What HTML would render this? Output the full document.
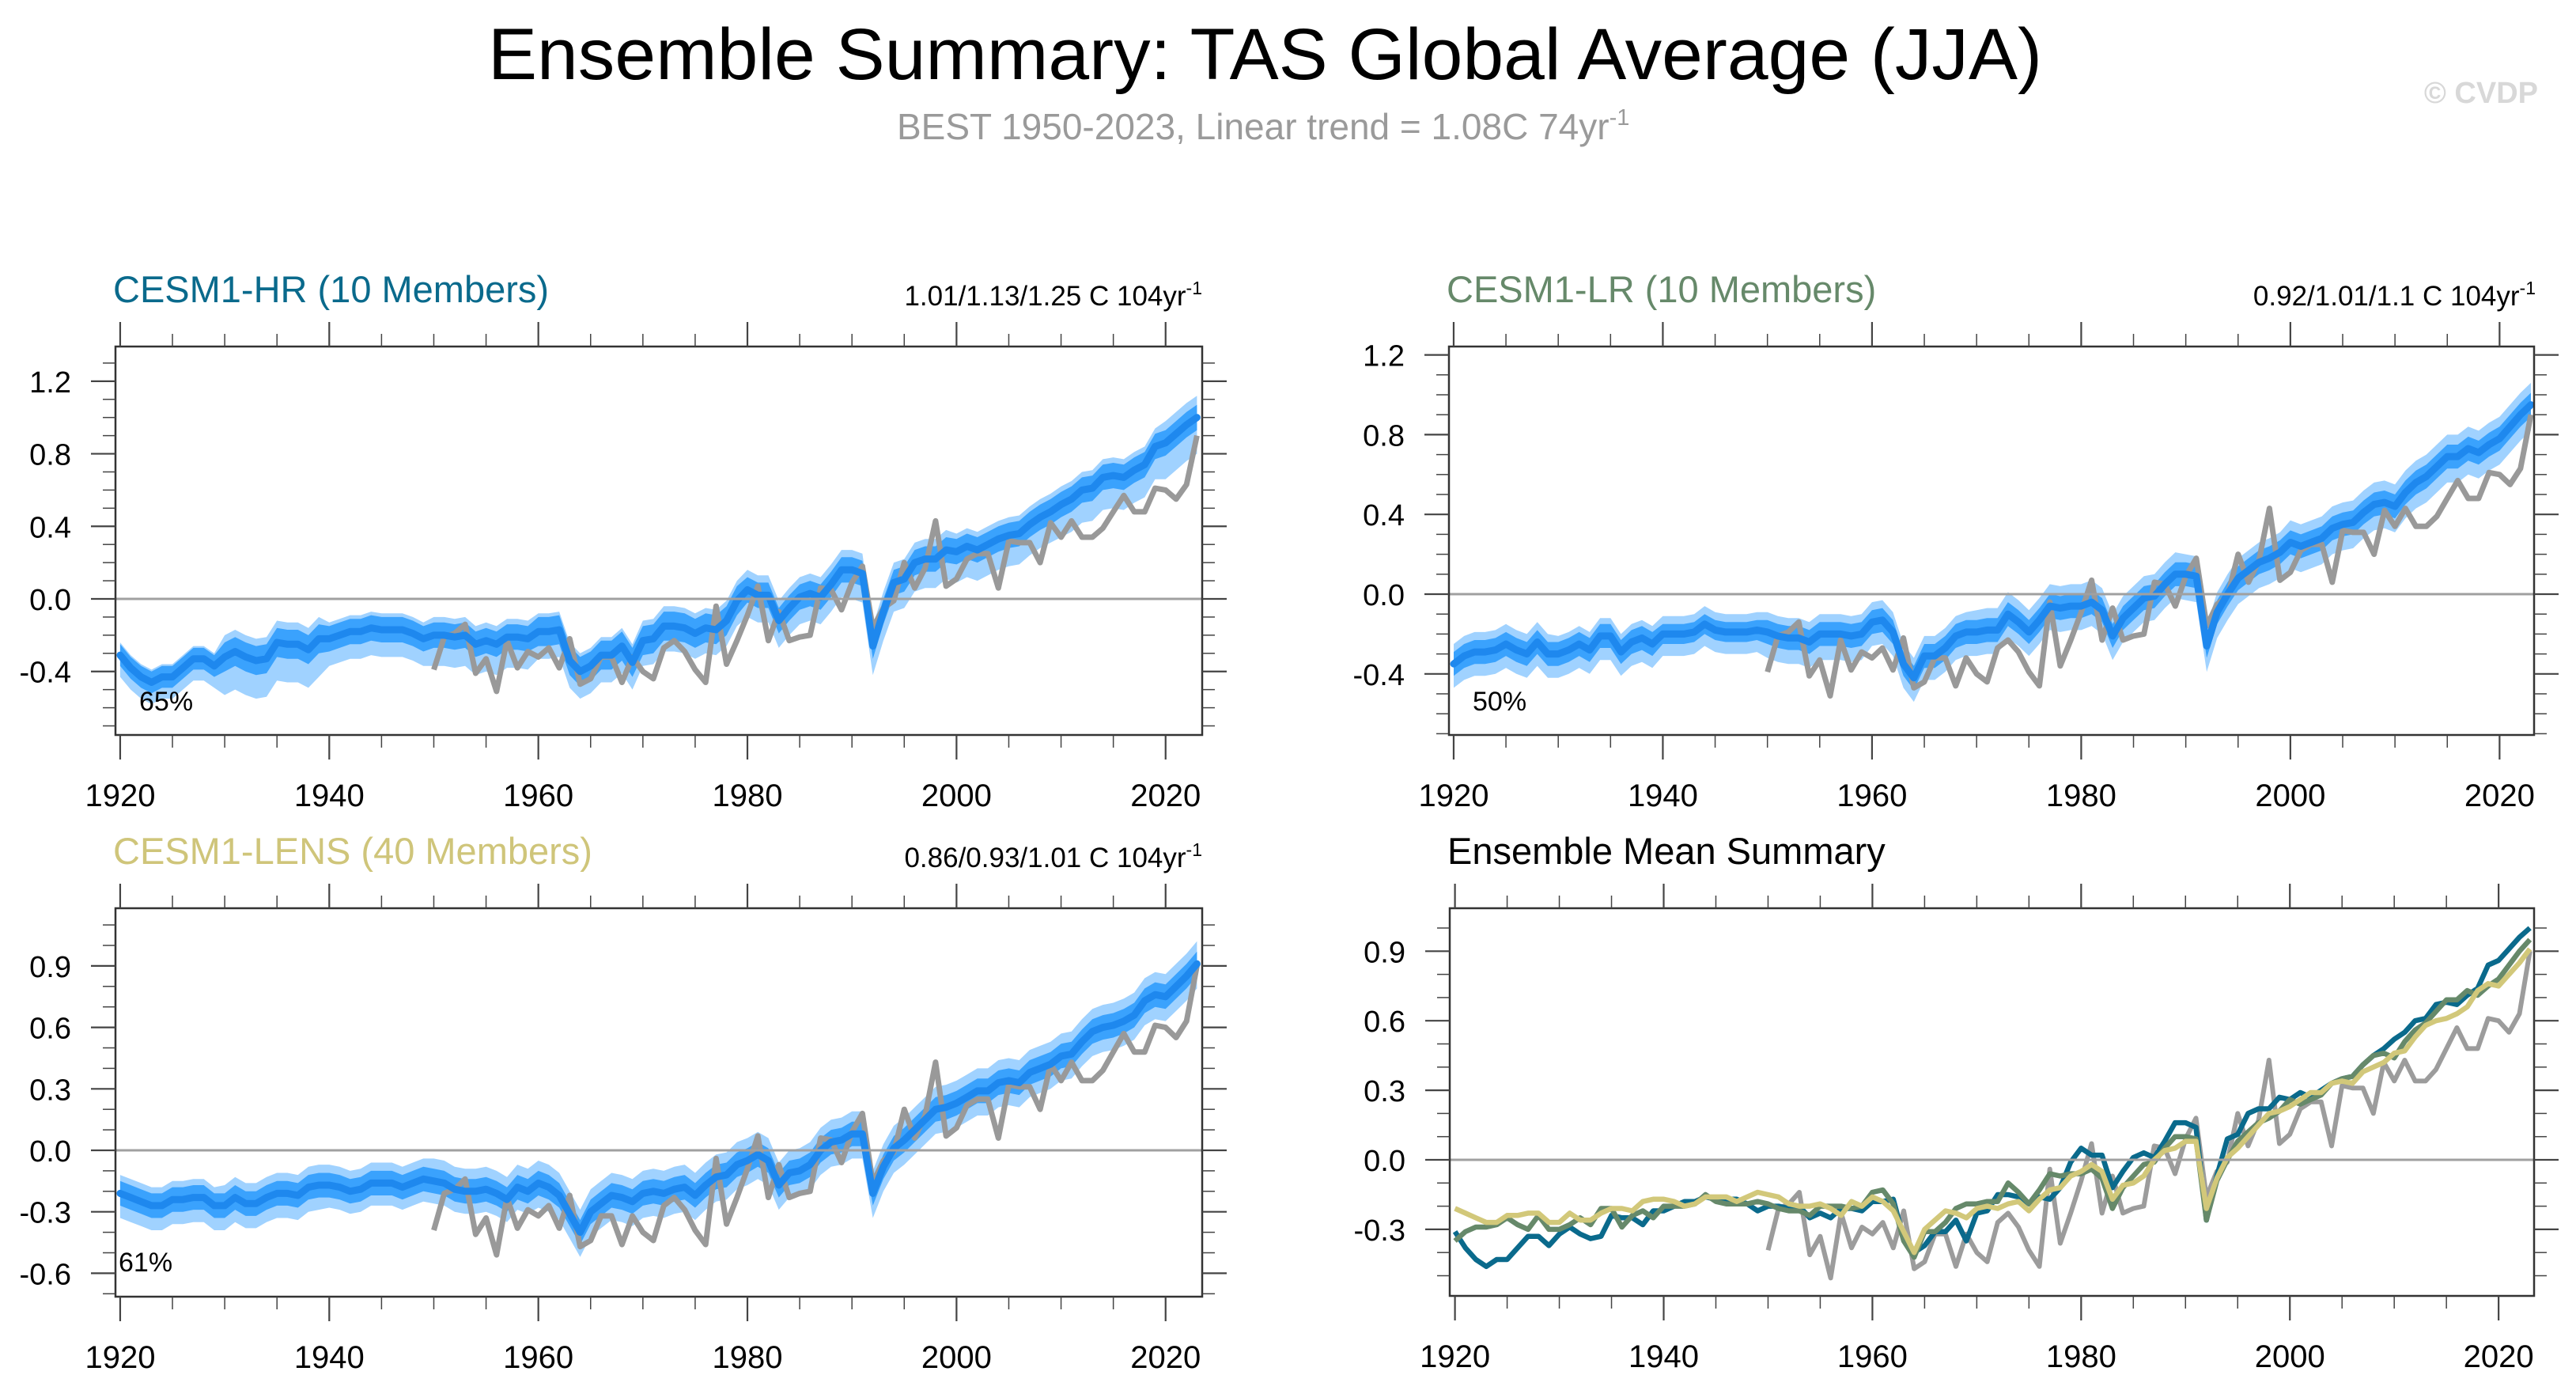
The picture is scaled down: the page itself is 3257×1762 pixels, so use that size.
<!DOCTYPE html>
<html><head><meta charset="utf-8"><style>
html,body{margin:0;padding:0;background:#fff;}
svg{display:block;font-family:"Liberation Sans",Arial,sans-serif;}
</style></head>
<body>
<svg id="fig" width="3257" height="1762" viewBox="0 0 3257 1762" xmlns="http://www.w3.org/2000/svg">
<rect x="0" y="0" width="3257" height="1762" fill="#fff"/>
<text x="617" y="100" font-size="92" text-anchor="start" fill="#000" textLength="1965" lengthAdjust="spacingAndGlyphs">Ensemble Summary: TAS Global Average (JJA)</text>
<text x="1134" y="176" font-size="46" fill="#9a9a9a">BEST 1950-2023, Linear trend = 1.08C 74yr<tspan dy="-18" font-size="29">-1</tspan></text>
<text x="3209" y="130" font-size="38" text-anchor="end" fill="#d8d8d8" font-weight="bold">© CVDP</text>
</svg>
<script>
const years = [];
for (let y = 1920; y <= 2023; y++) years.push(y);
const obsYears = [];
for (let y = 1950; y <= 2023; y++) obsYears.push(y);
const obsValues = [-0.39,-0.21,-0.19,-0.14,-0.41,-0.33,-0.51,-0.23,-0.38,-0.29,
-0.32,-0.27,-0.38,-0.22,-0.47,-0.44,-0.32,-0.32,-0.46,-0.32,
-0.40,-0.44,-0.27,-0.23,-0.29,-0.39,-0.46,-0.04,-0.36,-0.23,
-0.09,0.07,-0.23,-0.07,-0.23,-0.21,-0.20,0.06,0.05,-0.06,
0.09,0.18,-0.16,-0.05,-0.01,0.20,0.06,0.17,0.43,0.07,
0.11,0.22,0.25,0.25,0.06,0.32,0.31,0.31,0.20,0.42,
0.34,0.43,0.34,0.34,0.39,0.48,0.57,0.48,0.48,0.61,
0.60,0.55,0.63,0.90];
const hrMean = [-0.31,-0.38,-0.43,-0.46,-0.43,-0.43,-0.38,-0.33,-0.33,-0.37,
-0.32,-0.29,-0.32,-0.34,-0.33,-0.24,-0.25,-0.25,-0.28,-0.22,
-0.22,-0.20,-0.18,-0.18,-0.16,-0.17,-0.17,-0.17,-0.19,-0.22,
-0.20,-0.20,-0.21,-0.20,-0.25,-0.23,-0.25,-0.21,-0.21,-0.22,
-0.18,-0.18,-0.17,-0.34,-0.40,-0.37,-0.31,-0.31,-0.26,-0.35,
-0.23,-0.22,-0.15,-0.15,-0.16,-0.19,-0.16,-0.17,-0.12,-0.01,
0.05,0.02,0.02,-0.12,-0.05,0.01,0.03,0.01,0.08,0.16,
0.16,0.14,-0.26,-0.07,0.09,0.11,0.20,0.22,0.22,0.27,
0.26,0.29,0.27,0.30,0.33,0.35,0.36,0.41,0.45,0.48,
0.52,0.55,0.60,0.61,0.67,0.68,0.67,0.71,0.74,0.84,
0.86,0.91,0.96,1.00];
const lrMean = [-0.35,-0.31,-0.29,-0.29,-0.28,-0.25,-0.28,-0.30,-0.24,-0.30,
-0.30,-0.28,-0.25,-0.28,-0.21,-0.21,-0.29,-0.24,-0.22,-0.25,
-0.20,-0.20,-0.20,-0.19,-0.15,-0.18,-0.19,-0.19,-0.19,-0.18,
-0.19,-0.21,-0.22,-0.22,-0.24,-0.20,-0.20,-0.20,-0.21,-0.20,
-0.14,-0.13,-0.19,-0.35,-0.42,-0.31,-0.31,-0.27,-0.21,-0.19,
-0.19,-0.18,-0.18,-0.10,-0.14,-0.19,-0.13,-0.06,-0.07,-0.06,
-0.06,-0.04,-0.08,-0.21,-0.12,-0.07,-0.02,-0.01,0.05,0.10,
0.10,0.09,-0.26,-0.09,0.00,0.08,0.12,0.16,0.18,0.21,
0.26,0.24,0.26,0.28,0.33,0.35,0.36,0.41,0.45,0.46,
0.44,0.51,0.56,0.59,0.64,0.69,0.69,0.73,0.71,0.75,
0.78,0.84,0.90,0.95];
const lensMean = [-0.21,-0.23,-0.25,-0.27,-0.27,-0.24,-0.24,-0.23,-0.23,-0.27,
-0.27,-0.23,-0.26,-0.26,-0.23,-0.21,-0.21,-0.22,-0.18,-0.17,
-0.17,-0.18,-0.20,-0.19,-0.16,-0.16,-0.16,-0.18,-0.16,-0.14,
-0.15,-0.16,-0.19,-0.20,-0.20,-0.19,-0.21,-0.24,-0.18,-0.20,
-0.16,-0.18,-0.22,-0.31,-0.40,-0.30,-0.26,-0.22,-0.23,-0.25,
-0.21,-0.20,-0.21,-0.19,-0.18,-0.22,-0.17,-0.13,-0.12,-0.07,
-0.05,-0.02,-0.05,-0.17,-0.11,-0.10,-0.07,0.00,0.04,0.05,
0.08,0.08,-0.21,-0.08,0.01,0.05,0.10,0.15,0.20,0.21,
0.23,0.26,0.29,0.29,0.33,0.34,0.33,0.38,0.40,0.42,
0.46,0.47,0.53,0.58,0.60,0.61,0.63,0.66,0.73,0.76,
0.75,0.80,0.85,0.91];
// spread offsets per decade (1920s..2020s), degrees C
const hrInnerUp = [0.06,0.08,0.07,0.07,0.08,0.08,0.07,0.07,0.07,0.07,0.07];
const hrInnerDn = [0.06,0.08,0.07,0.07,0.08,0.08,0.07,0.07,0.07,0.07,0.07];
const hrOuterUp = [0.07,0.12,0.09,0.10,0.10,0.11,0.11,0.11,0.10,0.10,0.12];
const hrOuterDn = [0.12,0.21,0.15,0.17,0.15,0.14,0.15,0.16,0.17,0.18,0.20];
const lrInnerUp = [0.06,0.06,0.05,0.06,0.06,0.06,0.06,0.06,0.06,0.06,0.06];
const lrInnerDn = [0.06,0.06,0.05,0.06,0.06,0.06,0.06,0.06,0.06,0.06,0.06];
const lrOuterUp = [0.10,0.09,0.09,0.10,0.10,0.11,0.11,0.10,0.11,0.11,0.11];
const lrOuterDn = [0.12,0.12,0.11,0.13,0.12,0.12,0.12,0.13,0.13,0.13,0.13];
const lensInnerUp = [0.06,0.06,0.06,0.06,0.06,0.06,0.06,0.06,0.06,0.06,0.06];
const lensInnerDn = [0.06,0.06,0.06,0.06,0.06,0.06,0.06,0.06,0.06,0.06,0.06];
const lensOuterUp = [0.09,0.10,0.10,0.11,0.11,0.11,0.11,0.11,0.11,0.11,0.11];
const lensOuterDn = [0.12,0.12,0.11,0.11,0.12,0.12,0.12,0.12,0.12,0.12,0.12];
const xTickYears = [1920,1940,1960,1980,2000,2020];
const yTicksTop = [-0.4,0.0,0.4,0.8,1.2];
const yTicksLens = [-0.6,-0.3,0.0,0.3,0.6,0.9];
const yTicksSummary = [-0.3,0.0,0.3,0.6,0.9];

const NS = 'http://www.w3.org/2000/svg';
const svg = document.getElementById('fig');
function mk(tag, attrs, parent) {
  const e = document.createElementNS(NS, tag);
  for (const k in attrs) e.setAttribute(k, attrs[k]);
  (parent || svg).appendChild(e);
  return e;
}
const panels = [
  {key:'hr', x0:146, x1:1520, y0:438, y1:929, yr0:1919.55, yr1:2023.5, zero:757, ppu:229.3, ymin:-0.75, ymax:1.39, ticks:yTicksTop},
  {key:'lr', x0:1832, x1:3204, y0:438, y1:929, yr0:1919.55, yr1:2023.3, zero:751, ppu:252, ymin:-0.70, ymax:1.24, ticks:yTicksTop},
  {key:'lens', x0:146, x1:1520, y0:1148, y1:1639, yr0:1919.55, yr1:2023.5, zero:1454, ppu:259, ymin:-0.71, ymax:1.18, ticks:yTicksLens},
  {key:'sum', x0:1833, x1:3204, y0:1148, y1:1638, yr0:1919.5, yr1:2023.4, zero:1466, ppu:293, ymin:-0.58, ymax:1.08, ticks:yTicksSummary}
];
function xs(p, yr) { return p.x0 + (yr - p.yr0) / (p.yr1 - p.yr0) * (p.x1 - p.x0); }
function ys(p, v) { return p.zero - v * p.ppu; }

function drawAxes(p, g) {
  mk('line', {x1:p.x0, y1:ys(p,0), x2:p.x1, y2:ys(p,0), stroke:'#a0a0a0', 'stroke-width':3}, g);
  const frame = mk('rect', {x:p.x0, y:p.y0, width:p.x1-p.x0, height:p.y1-p.y0, fill:'none', stroke:'#333', 'stroke-width':2.5}, g);
  
  
  for (let yr = 1920; yr <= 2020; yr += 5) {
    const major = yr % 20 === 0;
    const L = major ? 31 : 16;
    const x = xs(p, yr);
    mk('line', {x1:x, y1:p.y1, x2:x, y2:p.y1+L, stroke:'#444', 'stroke-width':major?2.2:1.5}, g);
    mk('line', {x1:x, y1:p.y0, x2:x, y2:p.y0-L, stroke:'#444', 'stroke-width':major?2.2:1.5}, g);
  }
  xTickYears.forEach(yr => {
    const t = mk('text', {x:xs(p,yr), y:p.y1+90, 'font-size':40, 'text-anchor':'middle', fill:'#000'}, g);
    t.textContent = yr;
    
    
  });
  const lo = Math.ceil(p.ymin * 10), hi = Math.floor(p.ymax * 10);
  for (let k = lo; k <= hi; k++) {
    const v = k / 10;
    const major = p.ticks.some(t => Math.abs(t - v) < 1e-6);
    const L = major ? 31 : 16;
    const y = ys(p, v);
    mk('line', {x1:p.x0, y1:y, x2:p.x0-L, y2:y, stroke:'#444', 'stroke-width':major?2.2:1.5}, g);
    mk('line', {x1:p.x1, y1:y, x2:p.x1+L, y2:y, stroke:'#444', 'stroke-width':major?2.2:1.5}, g);
  }
  p.ticks.forEach(v => {
    const t = mk('text', {x:p.x0-56, y:ys(p,v)+14, 'font-size':38, 'text-anchor':'end', fill:'#000'}, g);
    t.textContent = v.toFixed(1);
    
    
  });
}
function linePath(p, xsArr, vals) {
  return vals.map((v,i) => (i?'L':'M') + xs(p, xsArr[i]).toFixed(1) + ',' + ys(p, v).toFixed(1)).join(' ');
}
function bandPath(p, mean, up, dn) {
  const top = mean.map((v,i) => [xs(p, years[i]), ys(p, v + up[Math.min(10, Math.floor(i/10))])]);
  const bot = mean.map((v,i) => [xs(p, years[i]), ys(p, v - dn[Math.min(10, Math.floor(i/10))])]).reverse();
  return 'M' + top.concat(bot).map(q => q[0].toFixed(1)+','+q[1].toFixed(1)).join(' L') + ' Z';
}
function drawEnsemble(p, g, mean, iu, idn, ou, od) {
  const outer = mk('path', {d:bandPath(p, mean, ou, od), fill:'#a0d2ff', stroke:'none'}, g);
  
  
  const inner = mk('path', {d:bandPath(p, mean, iu, idn), fill:'#3aa2fd', stroke:'none'}, g);
  
  
  const obs = mk('path', {d:linePath(p, obsYears, obsValues), fill:'none', stroke:'#999', 'stroke-width':7, 'stroke-linejoin':'round'}, g);
  
  
  const m = mk('path', {d:linePath(p, years, mean), fill:'none', stroke:'#1e88ee', 'stroke-width':9, 'stroke-linejoin':'round', 'stroke-linecap':'round'}, g);
  
  
}
function txt(g, x, y, size, fill, s, anchor) {
  const t = mk('text', {x:x, y:y, 'font-size':size, fill:fill, 'text-anchor':anchor||'start'}, g);
  t.textContent = s;
  return t;
}
function trendText(g, x, y, s) {
  const t = mk('text', {x:x, y:y, 'font-size':35, fill:'#000', 'text-anchor':'end'}, g);
  t.textContent = s;
  const sp = mk('tspan', {dy:-14, 'font-size':23}, t);
  sp.textContent = '-1';
  
  
}

// Panel 1: HR
let p = panels[0];
let g = mk('g', {});


drawEnsemble(p, g, hrMean, hrInnerUp, hrInnerDn, hrOuterUp, hrOuterDn);
drawAxes(p, g);
let t = txt(g, 143, 382, 47, '#0a6a8c', 'CESM1-HR (10 Members)');


trendText(g, 1520, 386, '1.01/1.13/1.25 C 104yr');
t = txt(g, 176, 898, 34, '#000', '65%');



// Panel 2: LR
p = panels[1];
g = mk('g', {});


drawEnsemble(p, g, lrMean, lrInnerUp, lrInnerDn, lrOuterUp, lrOuterDn);
drawAxes(p, g);
t = txt(g, 1829, 382, 47, '#66896a', 'CESM1-LR (10 Members)');


trendText(g, 3206, 386, '0.92/1.01/1.1 C 104yr');
t = txt(g, 1862, 898, 34, '#000', '50%');



// Panel 3: LENS
p = panels[2];
g = mk('g', {});


drawEnsemble(p, g, lensMean, lensInnerUp, lensInnerDn, lensOuterUp, lensOuterDn);
drawAxes(p, g);
t = txt(g, 143, 1092, 47, '#cfc57a', 'CESM1-LENS (40 Members)');


trendText(g, 1520, 1096, '0.86/0.93/1.01 C 104yr');
t = txt(g, 150, 1607, 34, '#000', '61%');



// Panel 4: summary
p = panels[3];
g = mk('g', {});


const sObs = mk('path', {d:linePath(p, obsYears, obsValues), fill:'none', stroke:'#9c9c9c', 'stroke-width':6, 'stroke-linejoin':'round'}, g);


const sHr = mk('path', {d:linePath(p, years, hrMean), fill:'none', stroke:'#0a6a8c', 'stroke-width':6.5, 'stroke-linejoin':'round'}, g);


const sLr = mk('path', {d:linePath(p, years, lrMean), fill:'none', stroke:'#66896a', 'stroke-width':6.5, 'stroke-linejoin':'round'}, g);


const sLens = mk('path', {d:linePath(p, years, lensMean), fill:'none', stroke:'#d2c87a', 'stroke-width':6.5, 'stroke-linejoin':'round'}, g);


drawAxes(p, g);
t = txt(g, 1830, 1092, 47, '#000', 'Ensemble Mean Summary');


</script>
</body></html>
